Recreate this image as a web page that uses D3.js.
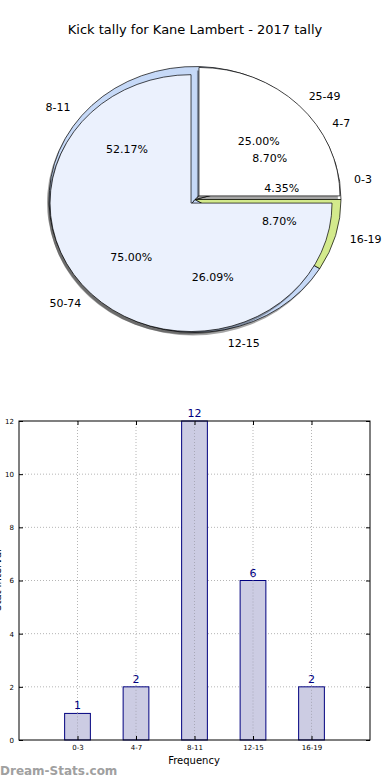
<!DOCTYPE html>
<html>
<head>
<meta charset="utf-8">
<script src="https://cdn.jsdelivr.net/npm/d3@7/dist/d3.min.js"></script>
<style>
  body { margin: 0; background: #fff; }
  svg { display: block; font-family: "DejaVu Sans", sans-serif; }
</style>
</head>
<body>
<svg id="chart" width="390" height="780"></svg>
<script>
// data
var title = "Kick tally for Kane Lambert - 2017 tally";
var kickBins = ["0-3", "4-7", "8-11", "12-15", "16-19"];
var kickCounts = [1, 2, 12, 6, 2];
var kickColors = ["#ffffff", "#ffffff", "#c6d9f7", "#c6d9f7", "#d3ea8c"];
var rangeBins = ["25-49", "50-74"];
var rangeShares = [25, 75];
var rangeColors = ["#ffffff", "#ebf1fd"];
var yTicks = [0, 2, 4, 6, 8, 10, 12];

(function() {
var svg = d3.select("#chart");

svg.append("text")
    .attr("x", 195).attr("y", 34)
    .attr("text-anchor", "middle")
    .style("font-size", "13px")
    .text(title);

// ---- pie (matplotlib style, squashed, two overlaid pies) ----
var cx = 195, cy = 199.5, sy = 133 / 146;

var pie = d3.pie().sort(null)
    .startAngle(Math.PI / 2)
    .endAngle(Math.PI / 2 - 2 * Math.PI);

var pieG = svg.append("g");

function drawPie(names, values, colors, r, explode) {
    var arc = d3.arc().innerRadius(0).outerRadius(r);
    var arcs = pie(values);
    var total = d3.sum(values);
    arcs.forEach(function(d, i) {
        var mid = (d.startAngle + d.endAngle) / 2;
        d.mid = mid;
        d.r = r;
        d.dx = Math.sin(mid) * explode;
        d.dy = -Math.cos(mid) * explode;
        d.name = names[i];
        d.pct = (100 * values[i] / total).toFixed(2) + "%";
        d.color = colors[i];
    });

    // shadow
    pieG.append("g")
        .attr("transform", "translate(" + (cx - 2) + "," + (cy + 3) + ") scale(1," + sy + ")")
        .selectAll("path").data(arcs).enter().append("path")
        .attr("transform", function(d) { return "translate(" + d.dx + "," + d.dy + ")"; })
        .attr("d", arc)
        .attr("fill", "#000")
        .attr("fill-opacity", 0.35);

    pieG.append("g")
        .attr("transform", "translate(" + cx + "," + cy + ") scale(1," + sy + ")")
        .selectAll("path").data(arcs).enter().append("path")
        .attr("transform", function(d) { return "translate(" + d.dx + "," + d.dy + ")"; })
        .attr("d", arc)
        .attr("fill", function(d) { return d.color; })
        .attr("stroke", "#000")
        .attr("stroke-width", 0.7)
        .attr("vector-effect", "non-scaling-stroke");
    return arcs;
}

var arcs1 = drawPie(kickBins, kickCounts, kickColors, 146, 0);
var arcs2 = drawPie(rangeBins, rangeShares, rangeColors, 141, 5.6);

var labG = svg.append("g").style("font-size", "11px");
arcs1.concat(arcs2).forEach(function(d) {
    var s = Math.sin(d.mid), c = Math.cos(d.mid);
    labG.append("text")
        .attr("x", cx + d.dx + s * 1.1 * d.r)
        .attr("y", cy + (d.dy - c * 1.1 * d.r) * sy)
        .attr("dy", "0.35em")
        .attr("text-anchor", s > 0 ? "start" : "end")
        .text(d.name);
    labG.append("text")
        .attr("x", cx + d.dx + s * 0.6 * d.r)
        .attr("y", cy + (d.dy - c * 0.6 * d.r) * sy)
        .attr("dy", "0.35em")
        .attr("text-anchor", "middle")
        .text(d.pct);
});

// ---- bar chart ----
var pLeft = 19, pRight = 370, pTop = 421, pBottom = 740;
var x = d3.scaleLinear().domain([0, kickBins.length + 1]).range([pLeft, pRight]);
var y = d3.scaleLinear().domain([0, 12]).range([pBottom, pTop]);
var barW = x(0.44) - x(0);

var bar = svg.append("g");

// grid
bar.append("g").selectAll("line").data(yTicks.slice(1, -1)).enter().append("line")
    .attr("x1", pLeft).attr("x2", pRight)
    .attr("y1", function(d) { return y(d); }).attr("y2", function(d) { return y(d); })
    .attr("stroke", "#b5b5b5").attr("stroke-dasharray", "1,2");
bar.append("g").selectAll("line").data(kickBins).enter().append("line")
    .attr("x1", function(d, i) { return x(i + 1); }).attr("x2", function(d, i) { return x(i + 1); })
    .attr("y1", pTop).attr("y2", pBottom)
    .attr("stroke", "#b5b5b5").attr("stroke-dasharray", "1,2");

// bars
bar.append("g").selectAll("rect").data(kickCounts).enter().append("rect")
    .attr("x", function(d, i) { return x(i + 1) - barW / 2; })
    .attr("y", function(d) { return y(d); })
    .attr("width", barW)
    .attr("height", function(d) { return pBottom - y(d); })
    .attr("fill", "#ccccE3")
    .attr("stroke", "#00007f")
    .attr("stroke-width", 1);

// grid shows through the bars
bar.append("g").selectAll("line").data(kickBins).enter().append("line")
    .attr("x1", function(d, i) { return x(i + 1); }).attr("x2", function(d, i) { return x(i + 1); })
    .attr("y1", function(d, i) { return y(kickCounts[i]); }).attr("y2", pBottom)
    .attr("stroke", "#a8a8b8").attr("stroke-dasharray", "1,2");

bar.append("g").selectAll("text").data(kickCounts).enter().append("text")
    .attr("x", function(d, i) { return x(i + 1); })
    .attr("y", function(d) { return y(d) - 4; })
    .attr("text-anchor", "middle")
    .attr("fill", "#00007f")
    .style("font-size", "11px")
    .text(function(d) { return d; });

// frame
bar.append("rect")
    .attr("x", pLeft).attr("y", pTop)
    .attr("width", pRight - pLeft).attr("height", pBottom - pTop)
    .attr("fill", "none").attr("stroke", "#000").attr("stroke-width", 1);

// axes
var yAxis = d3.axisLeft(y).tickValues(yTicks).tickSize(-4).tickPadding(5);
var yg = bar.append("g").attr("transform", "translate(" + pLeft + ",0)").call(yAxis);
var yAxisR = d3.axisRight(y).tickValues(yTicks).tickSize(-4).tickFormat("");
var ygR = bar.append("g").attr("transform", "translate(" + pRight + ",0)").call(yAxisR);
var xAxis = d3.axisBottom(x).tickValues(d3.range(1, kickBins.length + 1))
    .tickFormat(function(d) { return kickBins[d - 1]; }).tickSize(-4).tickPadding(5);
var xg = bar.append("g").attr("transform", "translate(0," + pBottom + ")").call(xAxis);
var xAxisT = d3.axisTop(x).tickValues(d3.range(1, kickBins.length + 1)).tickSize(-4).tickFormat("");
var xgT = bar.append("g").attr("transform", "translate(0," + pTop + ")").call(xAxisT);

[yg, ygR, xg, xgT].forEach(function(g) {
    g.select(".domain").remove();
    g.selectAll("line").attr("stroke", "#000");
    g.selectAll("text").style("font-family", "'DejaVu Sans', sans-serif").style("font-size", "7px").attr("fill", "#000");
});
yg.selectAll("text").attr("dy", "0.35em");

svg.append("text")
    .attr("x", 194).attr("y", 764)
    .attr("text-anchor", "middle")
    .style("font-size", "10px")
    .text("Frequency");

svg.append("text")
    .attr("transform", "translate(1,580) rotate(-90)")
    .attr("text-anchor", "middle")
    .style("font-size", "10px")
    .text("Stat Interval");

svg.append("text")
    .attr("x", 0).attr("y", 775)
    .attr("fill", "#a0a0a0")
    .style("font-size", "12px")
    .style("font-weight", "bold")
    .text("Dream-Stats.com");
})();
</script>
</body>
</html>
